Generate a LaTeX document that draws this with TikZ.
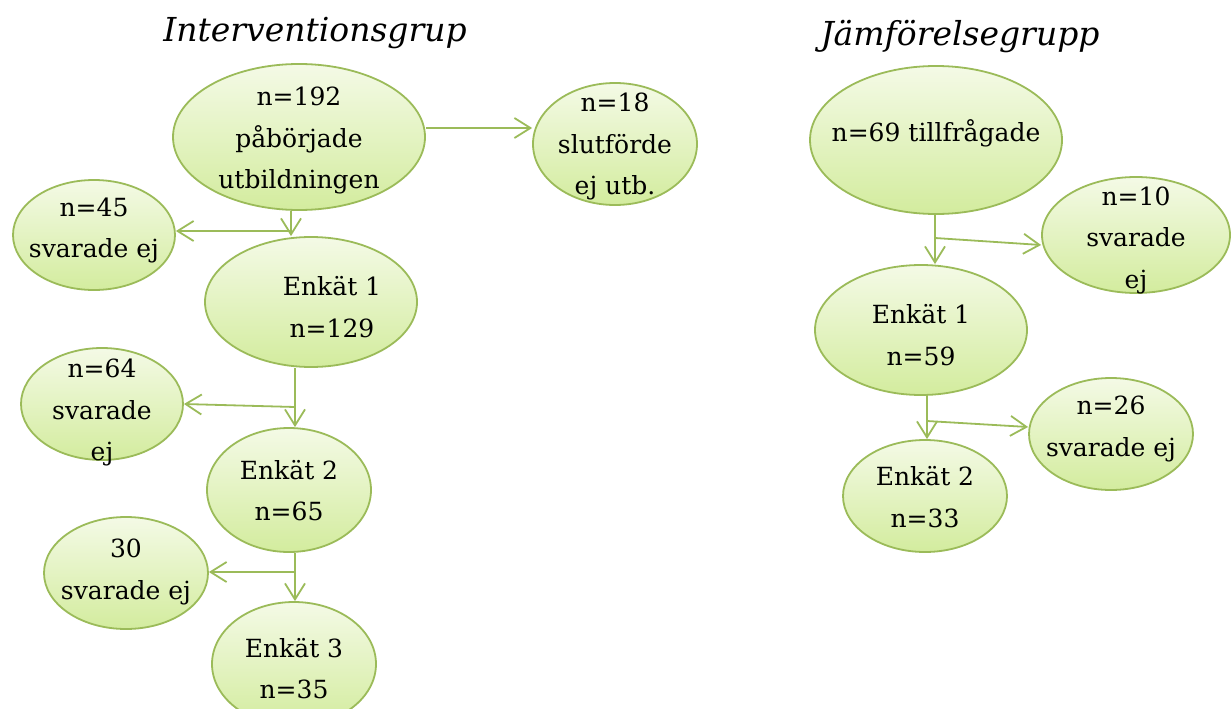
\documentclass[tikz,border=0pt]{standalone}
\usepackage{fontspec}
\setmainfont{DejaVu Serif}
\usetikzlibrary{arrows.meta,shapes.geometric}
\definecolor{gline}{HTML}{9BBB59}
\definecolor{gtop}{HTML}{F4FAE6}
\definecolor{gbot}{HTML}{D3EC9E}
\newcommand\tx[2][0pt]{\smash{\raisebox{#1}{\makebox[0pt]{\smash{\begin{tabular}{@{}c@{}}#2\end{tabular}}}}}}
\tikzset{
 bub/.style={ellipse, draw=gline, line width=1.8pt, top color=gtop, bottom color=gbot, inner sep=0pt, font=\fontsize{25}{41.5}\selectfont},
 conn/.style={draw=gline, line width=1.8pt},
 arr/.style={conn, -{Straight Barb[length=16pt,width=20pt,line width=1.8pt]}},
 ttl/.style={font=\fontsize{33}{40}\selectfont\itshape}
}
\begin{document}
\begin{tikzpicture}[x=1pt,y=-1pt]
\useasboundingbox (0,0) rectangle (1231,709);
\clip (0,0) rectangle (1231,709);
% titles
\node[ttl] (t1) at (315,33) {Interventionsgrup};
\node[ttl] (t2) at (960,37) {Jämförelsegrupp};
% left column
\node[bub, minimum width=252, minimum height=146] (top) at (299,137) {\tx[-8pt]{n=192\\påbörjade\\utbildningen}};
\node[bub, minimum width=164, minimum height=122] (n18) at (615,144) {\tx[-7pt]{n=18\\slutförde\\ej utb.}};
\node[bub, minimum width=162, minimum height=110] (n45) at (94,235) {\tx[0pt]{n=45\\svarade ej}};
\node[bub, minimum width=212, minimum height=130] (e1) at (311,302) {\hspace*{42pt}\tx[-12.5pt]{Enkät 1\\n=129}};
\node[bub, minimum width=162, minimum height=112] (n64) at (102,404) {\tx[-13pt]{n=64\\svarade\\ej}};
\node[bub, minimum width=164, minimum height=124] (e2) at (289,490) {\tx[-8pt]{Enkät 2\\n=65}};
\node[bub, minimum width=164, minimum height=112] (n30) at (126,573) {\tx[-3.5pt]{30\\svarade ej}};
\node[bub, minimum width=164, minimum height=124] (e3) at (294,664) {\tx[-12pt]{Enkät 3\\n=35}};
% right column
\node[bub, minimum width=252, minimum height=148] (n69) at (936,140) {\tx[1pt]{n=69 tillfrågade}};
\node[bub, minimum width=188, minimum height=116] (n10) at (1136,235) {\tx[-9.5pt]{n=10\\svarade\\ej}};
\node[bub, minimum width=212, minimum height=130] (r1) at (921,330) {\tx[-12.5pt]{Enkät 1\\n=59}};
\node[bub, minimum width=164, minimum height=112] (n26) at (1111,434) {\tx[0.5pt]{n=26\\svarade ej}};
\node[bub, minimum width=164, minimum height=112] (r2) at (925,496) {\tx[-8.5pt]{Enkät 2\\n=33}};
% connectors left
\draw[arr] ([yshift=9pt]top.east) -- ([yshift=9pt]top.east -| n18.west);
\coordinate (a1) at (291,231);
\draw[conn] (a1 |- top.south) -- (a1);
\draw[arr] (a1) -- (a1 |- e1.north);
\draw[arr] (a1) -- (a1 -| n45.east);
\coordinate (a2) at (295,407);
\draw[conn] (a2 |- e1.south) -- (a2);
\draw[arr] (a2) -- (a2 |- e2.north);
\draw[arr] (a2) -- (n64.east);
\coordinate (a3) at (295,572);
\draw[conn] (a3 |- e2.south) -- (a3);
\draw[arr] (a3) -- (a3 |- e3.north);
\draw[arr] (a3) -- (a3 -| n30.east);
% connectors right
\coordinate (b1) at (935,238);
\draw[conn] (b1 |- n69.south) -- (b1);
\draw[arr] (b1) -- (b1 |- r1.north);
\draw[arr] (b1) -- ([yshift=-10pt]n10.west);
\coordinate (b2) at (927,421);
\draw[conn] (b2 |- r1.south) -- (b2);
\draw[arr] (b2) -- (b2 |- r2.north);
\draw[arr] (b2) -- ([yshift=7pt]n26.west);
\end{tikzpicture}
\end{document}
